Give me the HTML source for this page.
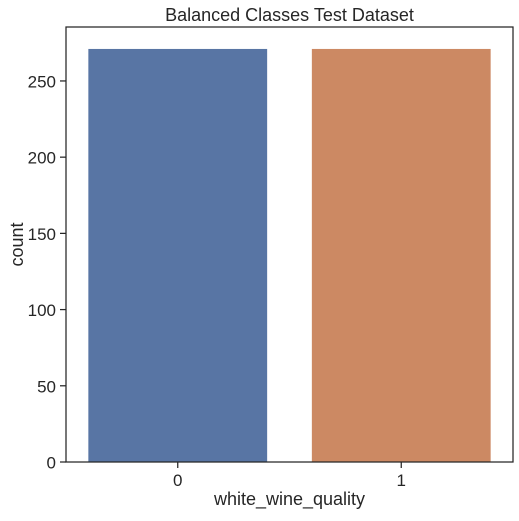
<!DOCTYPE html>
<html><head><meta charset="utf-8"><style>
body{margin:0;background:#fff}
svg text{font-family:"Liberation Sans",Arial,sans-serif;fill:#262626}
</style></head><body>
<svg id="chart" width="519" height="516" xmlns="http://www.w3.org/2000/svg">
<text x="289.5" y="21" text-anchor="middle" font-size="18">Balanced Classes Test Dataset</text>
<g id="bars"></g>
<g id="yticks"></g>
<g id="xticks"></g>
<rect x="66" y="27" width="447" height="435" fill="none" stroke="#262626" stroke-width="1.25"/>
<text x="289.5" y="505" text-anchor="middle" font-size="18">white_wine_quality</text>
<text transform="translate(23,244.5) rotate(-90)" text-anchor="middle" font-size="18">count</text>
</svg>
<script>
const categories = ["0", "1"];
const counts = [271, 271];
const colors = ["#5875a4", "#cc8963"];
const yTicks = [0, 50, 100, 150, 200, 250];
const NS = "http://www.w3.org/2000/svg";
const L = 66, R = 513, T = 27, B = 462, YMAX = 285.4;
const y = v => B - v / YMAX * (B - T);
const band = (R - L) / categories.length;
const xc = i => L + band * (i + 0.5);
const bars = document.getElementById('bars');
categories.forEach((c, i) => {
  const r = document.createElementNS(NS, 'rect');
  
  
  const w = band * 0.8;
  r.setAttribute('x', xc(i) - w / 2);
  r.setAttribute('y', y(counts[i]));
  r.setAttribute('width', w);
  r.setAttribute('height', B - y(counts[i]));
  r.setAttribute('fill', colors[i]);
  bars.appendChild(r);
});
const yt = document.getElementById('yticks');
yTicks.forEach(v => {
  const l = document.createElementNS(NS, 'line');
  
  
  l.setAttribute('x1', L - 6); l.setAttribute('x2', L);
  l.setAttribute('y1', y(v)); l.setAttribute('y2', y(v));
  l.setAttribute('stroke', '#262626'); l.setAttribute('stroke-width', '1.25');
  yt.appendChild(l);
  const t = document.createElementNS(NS, 'text');
  
  
  t.setAttribute('x', L - 10); t.setAttribute('y', y(v) + 6.5);
  t.setAttribute('text-anchor', 'end'); t.setAttribute('font-size', '17');
  t.textContent = v;
  yt.appendChild(t);
});
const xt = document.getElementById('xticks');
categories.forEach((c, i) => {
  const l = document.createElementNS(NS, 'line');
  
  
  l.setAttribute('x1', xc(i)); l.setAttribute('x2', xc(i));
  l.setAttribute('y1', B); l.setAttribute('y2', B + 6);
  l.setAttribute('stroke', '#262626'); l.setAttribute('stroke-width', '1.25');
  xt.appendChild(l);
  const t = document.createElementNS(NS, 'text');
  
  
  t.setAttribute('x', xc(i)); t.setAttribute('y', B + 24);
  t.setAttribute('text-anchor', 'middle'); t.setAttribute('font-size', '17');
  t.textContent = c;
  xt.appendChild(t);
});
</script>
</body></html>
